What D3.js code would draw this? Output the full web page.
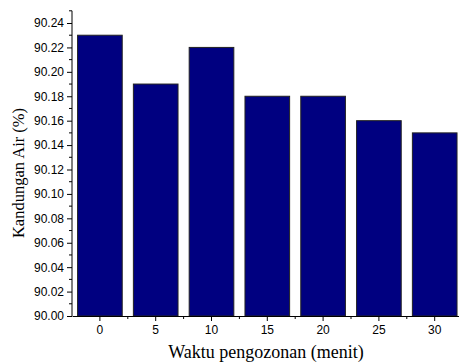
<!DOCTYPE html>
<html>
<head>
<meta charset="utf-8">
<script src="https://cdn.jsdelivr.net/npm/d3@7"></script>
<style>
  body { margin: 0; background: #fff; }
  svg { display: block; }
</style>
</head>
<body>
<svg id="chart" width="459" height="364"></svg>
<script>
// Moisture content per ozonation time
const categories = ["0", "5", "10", "15", "20", "25", "30"];
const values = [90.23, 90.19, 90.22, 90.18, 90.18, 90.16, 90.15];
const yTicks = [90.00, 90.02, 90.04, 90.06, 90.08, 90.10, 90.12, 90.14, 90.16, 90.18, 90.20, 90.22, 90.24];
const yMinorTicks = [90.01, 90.03, 90.05, 90.07, 90.09, 90.11, 90.13, 90.15, 90.17, 90.19, 90.21, 90.23];
const xTitle = "Waktu pengozonan (menit)";
const yTitle = "Kandungan Air (%)";

const svg = d3.select("#chart");
const plotLeft = 72, plotRight = 462.6, plotTop = 10.8, plotBottom = 316;

const x = d3.scaleBand().domain(categories).range([plotLeft, plotRight]).paddingInner(0.2).paddingOuter(0.1);
const y = d3.scaleLinear().domain([90.00, 90.25]).range([plotBottom, plotTop]);

// Bars
svg.append("g").selectAll("rect").data(values).join("rect")
  .attr("x", (d, i) => x(categories[i]))
  .attr("y", d => y(d))
  .attr("width", x.bandwidth())
  .attr("height", d => plotBottom - y(d))
  .attr("fill", "#000080")
  .attr("stroke", "#222")
  .attr("stroke-width", 1);

const tickFont = "'Liberation Sans', Arial, sans-serif";

// Y axis
const yAxis = svg.append("g").attr("transform", `translate(${plotLeft},0)`)
  .call(d3.axisLeft(y).tickValues(yTicks).tickFormat(d3.format(".2f")).tickSize(5).tickPadding(3).tickSizeOuter(0));
yAxis.select(".domain").attr("d", `M0,${plotTop}H0V${plotBottom}`).attr("stroke", "#000");
yAxis.selectAll("text").attr("font-family", tickFont).attr("font-size", 12).attr("fill", "#000");
yAxis.selectAll("line").attr("stroke", "#000");
svg.append("g").selectAll("line").data(yMinorTicks).join("line")
  .attr("x1", plotLeft - 3).attr("x2", plotLeft)
  .attr("y1", d => y(d)).attr("y2", d => y(d))
  .attr("stroke", "#000");
svg.append("line").attr("x1", plotLeft - 3).attr("x2", plotLeft)
  .attr("y1", plotTop).attr("y2", plotTop).attr("stroke", "#000");

// X axis
const xAxis = svg.append("g").attr("transform", `translate(0,${plotBottom})`)
  .call(d3.axisBottom(x).tickSize(5).tickPadding(4).tickSizeOuter(0));
xAxis.select(".domain").attr("stroke", "#000");
xAxis.selectAll("text").attr("font-family", tickFont).attr("font-size", 12).attr("fill", "#000");
xAxis.selectAll("line").attr("stroke", "#000");
const boundaries = d3.range(1, categories.length).map(i => plotLeft + i * x.step());
svg.append("g").selectAll("line").data(boundaries).join("line")
  .attr("x1", d => d).attr("x2", d => d)
  .attr("y1", plotBottom).attr("y2", plotBottom + 3)
  .attr("stroke", "#000");

// Axis titles
svg.append("text")
  .attr("x", 266).attr("y", 358)
  .attr("text-anchor", "middle")
  .attr("font-family", "'Liberation Serif', 'Times New Roman', serif")
  .attr("font-size", 18)
  .text(xTitle);

svg.append("text")
  .attr("transform", "translate(24,173) rotate(-90)")
  .attr("text-anchor", "middle")
  .attr("font-family", "'Liberation Serif', 'Times New Roman', serif")
  .attr("font-size", 16.5)
  .text(yTitle);
</script>
</body>
</html>
